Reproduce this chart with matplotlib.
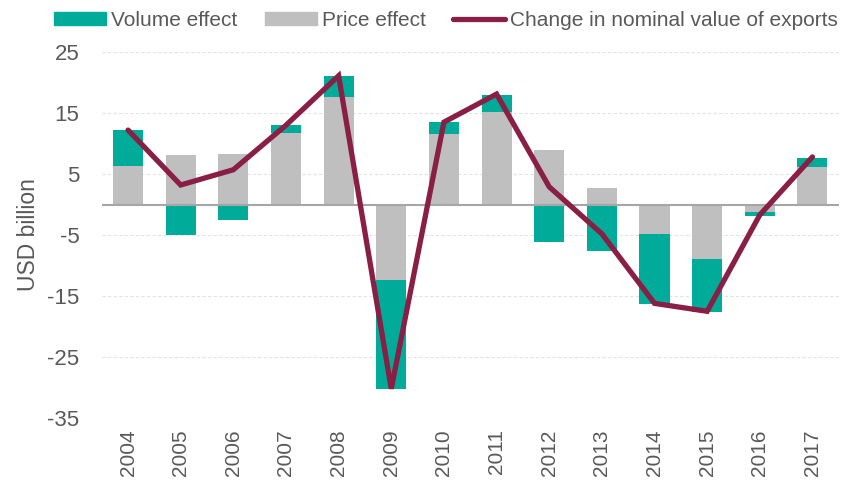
import numpy as np
import matplotlib.pyplot as plt
from matplotlib.lines import Line2D
from matplotlib.patches import Patch

plt.rcParams['font.family'] = ['Liberation Sans', 'DejaVu Sans']
plt.rcParams['axes.unicode_minus'] = False

years = ["2004", "2005", "2006", "2007", "2008", "2009", "2010",
         "2011", "2012", "2013", "2014", "2015", "2016", "2017"]
price = [6.3, 8.1, 8.2, 11.7, 17.6, -12.3, 11.5, 15.2, 8.9, 2.7, -4.8, -9.0, -1.2, 6.2]
volume = [5.9, -5.0, -2.5, 1.3, 3.4, -18.0, 2.0, 2.8, -6.1, -7.6, -11.5, -8.6, -0.7, 1.5]
nominal = [12.2, 3.2, 5.7, 13.0, 21.1, -30.2, 13.5, 18.1, 2.9, -4.8, -16.2, -17.5, -1.7, 7.8]

teal = "#00AC99"
grey = "#BFBFBF"
wine = "#8A1F45"
txt = "#595959"

fig = plt.figure(figsize=(8.44, 4.8), dpi=100)
ax = fig.add_axes([0.1205, 0.129, 0.8733, 0.7627])

x = np.arange(len(years))
price = np.array(price)
volume = np.array(volume)

ax.bar(x, price, width=0.57, color=grey, zorder=2)
# volume stacks on top of price when both have the same sign, else starts at zero
vol_base = np.where(np.sign(price) == np.sign(volume), price, 0)
ax.bar(x, volume, bottom=vol_base, width=0.57, color=teal, zorder=2)

ax.axhline(0, color="#A6A6A6", lw=1.5, zorder=3)
ax.plot(x, nominal, color=wine, lw=3.8, solid_capstyle="round",
        solid_joinstyle="miter", zorder=4)

ax.set_ylim(-35, 25)
ax.set_xlim(-0.5, len(years) - 0.5)
ax.set_yticks(np.arange(-35, 26, 10))
ax.yaxis.grid(True, color="#E3E3E3", ls=(0, (3, 2)), lw=0.8, zorder=0)
ax.set_xticks(x)
ax.set_xticklabels(years, rotation=90)
ax.tick_params(axis="both", length=0, colors=txt)
ax.tick_params(axis="x", labelsize=15, pad=8)
ax.tick_params(axis="y", labelsize=16, pad=16)
for s in ax.spines.values():
    s.set_visible(False)
ax.set_ylabel("USD billion", color=txt, fontsize=16.5, labelpad=5)

handles = [Patch(color=teal, label="Volume effect"),
           Patch(color=grey, label="Price effect"),
           Line2D([], [], color=wine, lw=3.8, solid_capstyle="round",
                  label="Change in nominal value of exports")]
fig.legend(handles=handles, loc="center right", bbox_to_anchor=(0.993, 0.958),
           ncol=3, frameon=False, fontsize=15, labelcolor=txt, borderpad=0,
           borderaxespad=0, handlelength=2.5, handleheight=0.55,
           handletextpad=0.25, columnspacing=1.3)

fig.savefig("out.png", dpi=100)
